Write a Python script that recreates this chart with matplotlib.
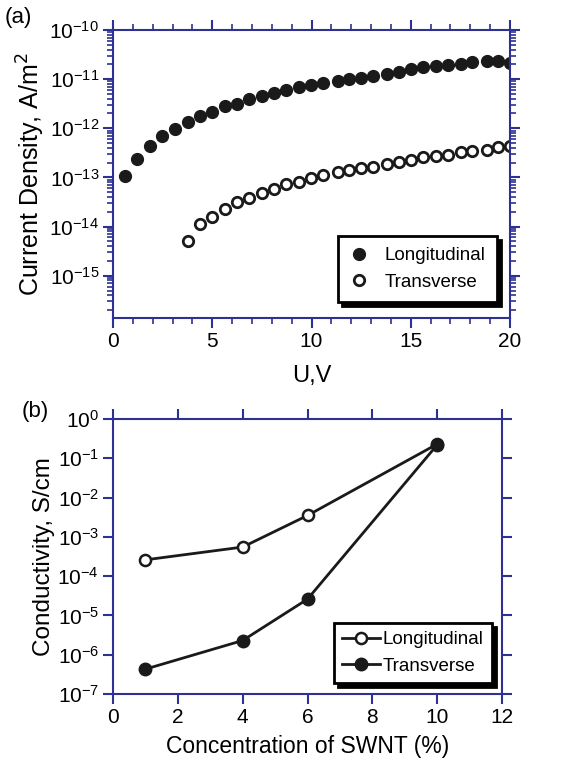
import numpy as np
import matplotlib.pyplot as plt
from matplotlib.ticker import LogLocator, MultipleLocator, NullLocator

plt.rcParams['font.family'] = ['Liberation Sans', 'DejaVu Sans']
plt.rcParams['font.size'] = 15

# (a) current density vs voltage
u_long = [0.62, 1.23, 1.87, 2.49, 3.14, 3.78, 4.39, 5.01, 5.65, 6.25, 6.87, 7.5,
          8.12, 8.74, 9.36, 9.97, 10.59, 11.34, 11.88, 12.49, 13.08, 13.78, 14.42,
          15.0, 15.63, 16.25, 16.89, 17.51, 18.07, 18.82, 19.38, 20.0]
j_long = [1.05e-13, 2.4e-13, 4.4e-13, 6.9e-13, 9.5e-13, 1.32e-12, 1.74e-12, 2.1e-12,
          2.8e-12, 3.1e-12, 4.0e-12, 4.5e-12, 5.2e-12, 5.9e-12, 6.8e-12, 7.6e-12,
          8.5e-12, 9.1e-12, 1.0e-11, 1.07e-11, 1.15e-11, 1.26e-11, 1.4e-11, 1.58e-11,
          1.77e-11, 1.85e-11, 1.9e-11, 2.07e-11, 2.2e-11, 2.3e-11, 2.3e-11, 2.1e-11]
u_trans = [3.78, 4.37, 4.99, 5.63, 6.25, 6.86, 7.5, 8.1, 8.74, 9.36, 9.97, 10.59,
           11.31, 11.88, 12.49, 13.08, 13.78, 14.42, 15.0, 15.6, 16.25, 16.89, 17.51,
           18.07, 18.82, 19.38, 20.0]
j_trans = [5.2e-15, 1.12e-14, 1.58e-14, 2.3e-14, 3.1e-14, 3.9e-14, 4.8e-14, 5.8e-14,
           7.4e-14, 8.1e-14, 9.6e-14, 1.14e-13, 1.28e-13, 1.42e-13, 1.54e-13, 1.66e-13,
           1.88e-13, 2.1e-13, 2.3e-13, 2.6e-13, 2.75e-13, 2.9e-13, 3.3e-13, 3.45e-13,
           3.6e-13, 4.1e-13, 4.4e-13]

# (b) conductivity vs SWNT concentration
conc = [1, 4, 6, 10]
sig_long = [2.6e-4, 5.5e-4, 3.5e-3, 0.23]
sig_trans = [4.3e-7, 2.3e-6, 2.6e-5, 0.22]

blue = '#2e3192'
W, H = 561, 761

fig = plt.figure(figsize=(5.61, 7.61), dpi=100)
ax1 = fig.add_axes([113 / W, 1 - 318 / H, (510 - 113) / W, (318 - 30) / H])
ax2 = fig.add_axes([113 / W, 1 - 694 / H, (502 - 113) / W, (694 - 419) / H])


def style(ax):
    for s in ax.spines.values():
        s.set_color(blue)
        s.set_linewidth(1.5)
    ax.tick_params(which='both', direction='out', color=blue, top=True, right=True,
                   labeltop=False, labelright=False, labelsize=15, pad=3)
    ax.tick_params(which='major', length=7, width=1.5)
    ax.tick_params(which='minor', length=4, width=1.2)


ax1.plot(u_long, j_long, 'o', color='#1a1a1a', ms=8.5, label='Longitudinal')
ax1.plot(u_trans, j_trans, 'o', mfc='white', mec='#1a1a1a', mew=2, ms=7.5,
         label='Transverse')
ax1.set_yscale('log')
ax1.set_xlim(0, 20)
ax1.set_ylim(10 ** -15.86, 1e-10)
ax1.xaxis.set_major_locator(MultipleLocator(5))
ax1.xaxis.set_minor_locator(MultipleLocator(1))
ax1.yaxis.set_major_locator(LogLocator(base=10, numticks=20))
ax1.yaxis.set_minor_locator(LogLocator(base=10, subs=np.arange(2, 10), numticks=20))
style(ax1)
ax1.set_xlabel('U,V', fontsize=17, labelpad=10)
ax1.set_ylabel('Current Density, A/m$^2$', fontsize=18, labelpad=2)
leg1 = ax1.legend(loc='lower right', bbox_to_anchor=(0.967, 0.056), fontsize=13.5,
                  frameon=True, fancybox=False, edgecolor='black', handlelength=1.0,
                  handletextpad=0.9, borderpad=0.6, borderaxespad=0,
                  shadow={'color': 'black', 'alpha': 1, 'ox': 3, 'oy': -3})
leg1.get_frame().set_linewidth(2)
fig.text(5 / W, 1 - 17 / H, '(a)', fontsize=16, va='center')

ax2.plot(conc, sig_long, '-o', color='#1a1a1a', lw=2, mfc='white', mec='#1a1a1a',
         mew=1.8, ms=8, label='Longitudinal')
ax2.plot(conc, sig_trans, '-o', color='#1a1a1a', lw=2, ms=9, label='Transverse')
ax2.set_yscale('log')
ax2.set_xlim(0, 12)
ax2.set_ylim(1e-7, 1)
ax2.xaxis.set_major_locator(MultipleLocator(2))
ax2.yaxis.set_major_locator(LogLocator(base=10, numticks=20))
ax2.yaxis.set_minor_locator(NullLocator())
style(ax2)
ax2.set_xlabel('Concentration of SWNT (%)', fontsize=16.5, labelpad=6)
ax2.set_ylabel('Conductivity, S/cm', fontsize=17.5, labelpad=2)
leg2 = ax2.legend(loc='lower right', bbox_to_anchor=(0.974, 0.04), fontsize=13.5,
                  frameon=True, fancybox=False, edgecolor='black', handlelength=2.0,
                  handletextpad=0.15, borderpad=0.45, borderaxespad=0,
                  shadow={'color': 'black', 'alpha': 1, 'ox': 3, 'oy': -3})
leg2.get_frame().set_linewidth(2)
fig.text(22 / W, 1 - 412 / H, '(b)', fontsize=16, va='center')

fig.savefig('out.png', dpi=100)
